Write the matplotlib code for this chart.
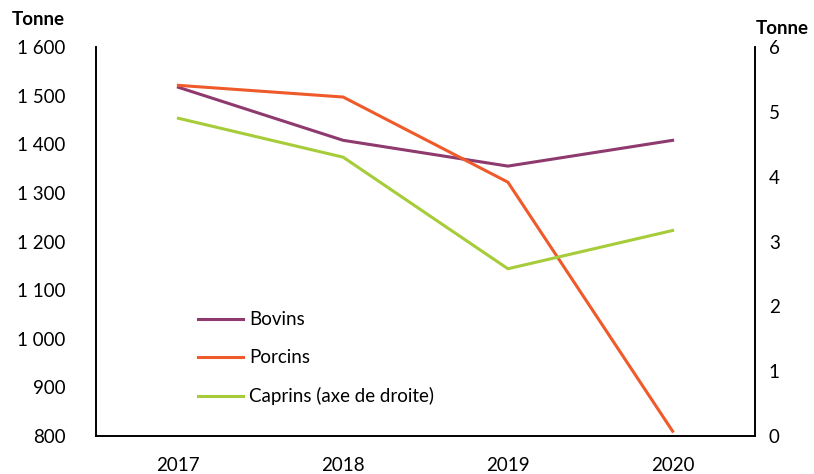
import matplotlib
matplotlib.use('Agg')
import matplotlib.pyplot as plt
from matplotlib.ticker import FuncFormatter

plt.rcParams['font.family'] = ['Lato', 'DejaVu Sans']

years = ["2017", "2018", "2019", "2020"]
bovins = [1517, 1408, 1355, 1408]
porcins = [1521, 1497, 1322, 810]
caprins = [4.90, 4.30, 2.58, 3.17]

fig = plt.figure(figsize=(8.14, 4.74), dpi=100)
ax = fig.add_axes([0.118, 0.080, 0.8095, 0.821])
ax2 = ax.twinx()

x = range(len(years))
l1, = ax.plot(x, bovins, color='#8E3A6F', lw=2.2, label='Bovins')
l2, = ax.plot(x, porcins, color='#EF5A2A', lw=2.2, label='Porcins')
l3, = ax2.plot(x, caprins, color='#A6CC3A', lw=2.2, label='Caprins (axe de droite)')

ax.set_xlim(-0.5, 3.5)
ax.set_ylim(800, 1600)
ax.set_yticks(range(800, 1601, 100))
ax.yaxis.set_major_formatter(FuncFormatter(lambda v, p: f"{int(v):,}".replace(",", " ")))
ax2.set_ylim(0, 6)
ax2.set_yticks(range(0, 7))

ax.set_xticks(list(x))
ax.set_xticklabels(years)

fs = 13.5
for a in (ax, ax2):
    a.spines['top'].set_visible(False)
    a.tick_params(length=0, labelsize=fs)
    for s in ('left', 'right', 'bottom'):
        a.spines[s].set_linewidth(1.2)
ax.tick_params(axis='y', pad=22)
ax2.tick_params(axis='y', pad=10)
ax.tick_params(axis='x', pad=15)

fig.text(0.014, 0.948, "Tonne", fontsize=fs, fontweight='bold')
fig.text(0.929, 0.928, "Tonne", fontsize=fs, fontweight='bold')

ax.legend(handles=[l1, l2, l3], loc='upper left', bbox_to_anchor=(0.144, 0.34),
          frameon=False, fontsize=fs, handlelength=2.4, labelspacing=1.12,
          handletextpad=0.3, borderaxespad=0)

fig.savefig("out.png", dpi=100)
